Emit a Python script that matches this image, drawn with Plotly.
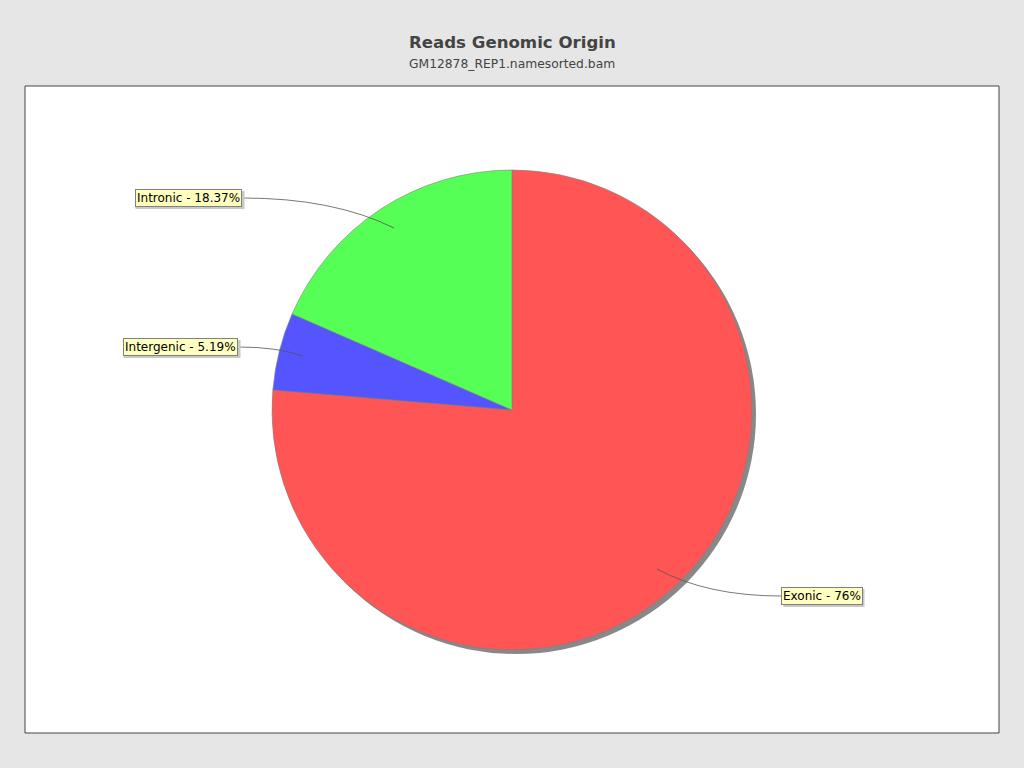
import plotly.graph_objects as go

# data
labels = ['Exonic', 'Intergenic', 'Intronic']
values = [76.0, 5.19, 18.37]
colors = ['#FF5555', '#5555FF', '#55FF55']
label_text = ['Exonic - 76%', 'Intergenic - 5.19%', 'Intronic - 18.37%']

W, H = 1024, 768
L, R, T, B = 25, 25, 86, 35   # plot frame in pixels
pw, ph = W - L - R, H - T - B


def px(x):
    return (x - L) / pw


def py(y):
    return (H - B - y) / ph


# pie placement (pixels)
cx, cy, rad = 512, 410, 240
dom_x = [px(cx - rad), px(cx + rad)]
dom_y = [py(cy + rad), py(cy - rad)]
sh = 4

fig = go.Figure()
# shadow
fig.add_trace(go.Pie(
    values=[1], marker=dict(colors=['#888888'], line=dict(width=0)),
    textinfo='none', hoverinfo='skip', showlegend=False, sort=False,
    domain=dict(x=[dom_x[0] + sh / pw, dom_x[1] + sh / pw],
                y=[dom_y[0] - sh / ph, dom_y[1] - sh / ph]),
))
fig.add_trace(go.Pie(
    labels=labels, values=values, sort=False, direction='clockwise', rotation=0,
    marker=dict(colors=colors, line=dict(color='#7F7F7F', width=0.6)),
    textinfo='none', showlegend=False,
    domain=dict(x=dom_x, y=dom_y),
))

# label boxes: centre pixel position, leader line end point inside slice
boxes = [
    dict(t=label_text[0], x=822, y=596, w=81, side='left', end=(657, 569)),
    dict(t=label_text[1], x=180, y=347, w=117, side='right', end=(303, 356)),
    dict(t=label_text[2], x=188, y=198, w=109, side='right', end=(394, 228)),
]

shapes = [dict(type='rect', xref='paper', yref='paper', x0=0, x1=1, y0=0, y1=1,
               fillcolor='white', line=dict(color='#444444', width=1), layer='below')]
annos = []
for b in boxes:
    sx = b['x'] - b['w'] / 2 if b['side'] == 'left' else b['x'] + b['w'] / 2
    ex, ey = b['end']
    # curved leader: horizontal out of box, bending into slice
    mx = sx + (ex - sx) * 0.6
    path = 'M {:.4f},{:.4f} Q {:.4f},{:.4f} {:.4f},{:.4f}'.format(
        px(sx), py(b['y']), px(mx), py(b['y']), px(ex), py(ey))
    shapes.append(dict(type='path', xref='paper', yref='paper', path=path,
                       line=dict(color='#555555', width=0.8)))
    # box shadow
    shapes.append(dict(type='rect', xref='paper', yref='paper',
                       x0=px(b['x'] - b['w'] / 2 + 2), x1=px(b['x'] + b['w'] / 2 + 2),
                       y0=py(b['y'] + 11), y1=py(b['y'] - 7),
                       fillcolor='#C8C8C8', line=dict(width=0)))
    annos.append(dict(text=b['t'], xref='paper', yref='paper', x=px(b['x']), y=py(b['y']),
                      xanchor='center', yanchor='middle',
                      showarrow=False, bgcolor='#FFFFC0', bordercolor='#808080',
                      borderwidth=1, borderpad=1,
                      font=dict(family='DejaVu Sans', size=12, color='black')))

annos.append(dict(text='<b>Reads Genomic Origin</b>', xref='paper', yref='paper',
                  x=px(512), y=py(42), xanchor='center', yanchor='middle', showarrow=False,
                  font=dict(family='DejaVu Sans', size=16.6, color='#444444')))
annos.append(dict(text='GM12878_REP1.namesorted.bam', xref='paper', yref='paper',
                  x=px(512), y=py(64), xanchor='center', yanchor='middle', showarrow=False,
                  font=dict(family='DejaVu Sans', size=12.3, color='#444444')))

fig.update_layout(
    width=W, height=H,
    margin=dict(l=L, r=R, t=T, b=B),
    paper_bgcolor='#E6E6E6',
    shapes=shapes, annotations=annos,
)

fig.write_html("out.html", config={'displayModeBar': False},
               post_script="document.body.style.margin='0';")
